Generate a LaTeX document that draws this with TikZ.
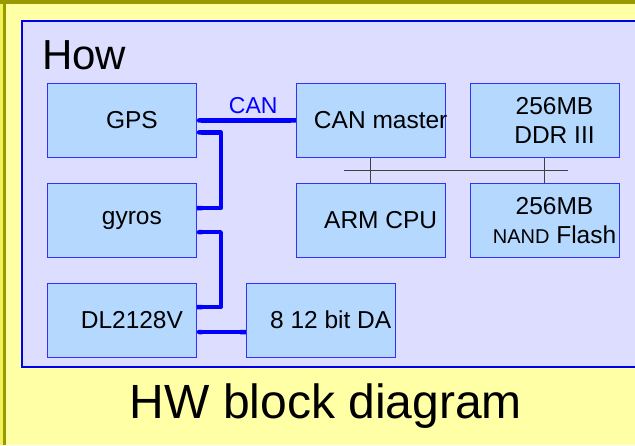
\documentclass[tikz,border=0pt]{standalone}
\usepackage{fontspec}
\setmainfont{Liberation Sans}
\usetikzlibrary{positioning,arrows.meta}
\definecolor{slideYellow}{HTML}{FFFFA5}
\definecolor{edgeYellow}{HTML}{F2F25A}
\definecolor{edgeOlive}{HTML}{999900}
\definecolor{panelLilac}{HTML}{DDDDFF}
\definecolor{panelLine}{HTML}{0000F0}
\definecolor{boxFill}{HTML}{B5D8FF}
\definecolor{boxLine}{HTML}{3030FF}
\definecolor{busBlue}{HTML}{0000FF}
\definecolor{memLine}{HTML}{404040}
\tikzset{
    blktxt/.style={xshift=10pt,align=center,inner sep=0pt,
        font=\fontsize{24.5}{29}\selectfont},
    blk/.style={draw=boxLine,fill=boxFill,line width=0.8pt,
        minimum width=149pt,minimum height=74pt,inner sep=0pt,
        label={[blktxt]center:#1}},
    bus/.style={draw=busBlue,line width=4.5pt,line join=round,{Round Cap}-{Butt Cap}},
    membus/.style={draw=memLine,line width=1pt},
    bigtext/.style={inner sep=0pt}
}
\begin{document}
\begin{tikzpicture}[x=1pt,y=-1pt,node distance=25pt and 25pt]
    % slide background
    \fill[slideYellow] (0,0) rectangle (635,445);
    \fill[edgeYellow] (0,0) rectangle (3,445);
    \fill[edgeOlive] (3,0) rectangle (6,445);
    \fill[edgeOlive] (0,0) rectangle (635,4);
    \useasboundingbox (0,0) rectangle (635,445);
    \draw[panelLine,fill=panelLilac,line width=1.2pt] (22,21) rectangle (645,367);
    \node[bigtext,font=\fontsize{42}{44}\selectfont,anchor=base west] (how) at (42,69) {How};
    \node[bigtext,font=\fontsize{48}{50}\selectfont,anchor=base] (title) at (326,418) {HW block diagram};

    % left column
    \node[blk=GPS,anchor=north west] (gps) at (47,83) {};
    \node[blk=gyros] (gyros) [below=of gps] {};
    \node[blk=DL2128V] (dl) [below=of gyros] {};
    \node[blk={8 12 bit DA}] (da) [right=49pt of dl] {};

    % right block
    \node[blk={CAN master}] (canm) [right=99pt of gps] {};
    \node[blk={256MB\\DDR III}] (ddr) [right=24pt of canm] {};
    \node[blk={ARM CPU}] (arm) [below=of canm] {};
    \node[blk={256MB\\{\fontsize{20}{29}\selectfont NAND} Flash}] (nand) [below=of ddr] {};

    % memory bus
    \coordinate (busL) at (344,170);
    \coordinate (busR) at (568,170);
    \draw[membus] (busL) -- (busR);
    \draw[membus] (canm.south) -- (arm.north);
    \draw[membus] (ddr.south) -- (nand.north);

    % CAN wiring
    \draw[bus] (gps.east) -- node[pos=0.57,above=4pt,inner sep=0pt,text=busBlue,
        font=\fontsize{23}{25}\selectfont] {CAN} (canm.west);
    \draw[bus] ([yshift=-12pt]gps.east) -- ++(24,0) |- ([yshift=12pt]gyros.east);
    \draw[bus] ([yshift=-12pt]gyros.east) -- ++(24,0) |- ([yshift=13pt]dl.east);
    \draw[bus] ([yshift=-12pt]dl.east) -- ([yshift=-12pt]da.west);
\end{tikzpicture}
\end{document}
